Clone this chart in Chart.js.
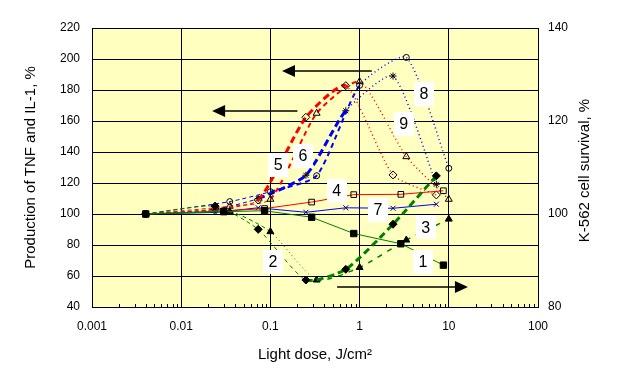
<!DOCTYPE html>
<html>
<head>
<meta charset="utf-8">
<script src="https://cdn.jsdelivr.net/npm/chart.js"></script>
<style>
  body { margin: 0; background: #fff; }
</style>
</head>
<body>
<canvas id="chart" width="624" height="379"></canvas>
<script>
// light doses (J/cm2) - three dose sets used by the curves
const doseA = [0.004, 0.024, 0.073, 0.25, 0.7, 2.37, 7.25];
const doseB = [0.004, 0.035, 0.1, 0.33, 1, 3.34, 10];
const doseC = [0.004, 0.03, 0.086, 0.29, 0.86, 2.9, 8.7];

// K-562 cell survival, % (right axis)
const surv1 = [100, 100.5, 100.7, 99.3, 95.8, 93.6, 89.0];
const surv2 = [100, 101.7, 96.7, 85.8, 88.1, 97.8, 108.2];
const surv3 = [100, 100.5, 96.2, 85.8, 88.5, 94.4, 98.9];

// production of TNF and IL-1, % (left axis)
const prod4 = [100, 102, 103.5, 107.7, 112.5, 112.7, 115];
const prod5 = [100, 103, 109, 162.4, 182.8, 125.2, 112.3];
const prod6 = [100, 105, 109.5, 165, 185.4, 137, 109.5];
const prod7 = [100, 101, 104, 101.1, 104, 103.7, 106.3];
const prod8 = [100, 108, 114.4, 124.7, 183, 201, 129.5];
const prod9 = [100, 103, 110, 125, 166.6, 189, 119.2];

const xTickVals = [0.001, 0.01, 0.1, 1, 10, 100];
const xTickLabels = ['0.001', '0.01', '0.1', '1', '10', '100'];

// curve numbers, placed in dose / left-axis units
const labelText = ['1', '2', '3', '4', '5', '6', '7', '8', '9'];
const labelDose = [5.13, 0.107, 5.5, 0.555, 0.122, 0.232, 1.61, 5.26, 3.12];
const labelLevel = [69.2, 69.2, 91.4, 114.8, 131.6, 137.4, 102.6, 177.4, 158.1];

// arrows pointing to the axis each group belongs to
const arrowFrom = [1.37, 0.201, 0.56];
const arrowTo = [0.135, 0.0222, 16.4];
const arrowLevel = [192.3, 166.5, 84.4];
const arrowAxis = ['y', 'y', 'y2'];

const rightTitle = 'K-562 cell survival, %';

const FONT = '"Liberation Sans", Arial, sans-serif';
const GREEN = '#008000', RED = '#ff0000', BLUE = '#0000ff';

function pts(xs, ys) {
    return xs.map((x, i) => ({ x: x, y: ys[i] }));
}

// per-segment width / dash, indexed by segment start point
function seg(widths, dashes) {
    return {
        borderWidth: c => widths[c.p0DataIndex],
        borderDash: c => dashes[c.p0DataIndex]
    };
}

const dash = [4, 3], dot = [1, 3], thick = [7, 4], mid = [5, 4];
const T = 0.2;

const datasets = [
    { data: pts(doseC, surv1), yAxisID: 'y2', borderColor: GREEN, borderWidth: 1,
      pointStyle: 'rect', pointRadius: 4.5, backgroundColor: '#000', pointBorderColor: '#000' },
    { data: pts(doseA, surv2), yAxisID: 'y2', borderColor: GREEN, tension: T,
      segment: seg([1, 1, 1, 3, 3, 3], [dash, dash, [4, 4], thick, thick, thick]),
      pointStyle: 'rectRot', pointRadius: 4, backgroundColor: '#000', pointBorderColor: '#000' },
    { data: pts(doseB, surv3), yAxisID: 'y2', borderColor: GREEN, tension: T,
      segment: seg([1, 1, 1, 1.5, 1.5, 1.5], [dash, dash, dot, [5, 6], [5, 6], [5, 6]]),
      pointStyle: 'triangle', pointRadius: 4, backgroundColor: '#000', pointBorderColor: '#000' },
    { data: pts(doseC, prod4), yAxisID: 'y', borderColor: RED, borderWidth: 1,
      pointStyle: 'rect', pointRadius: 4, backgroundColor: 'transparent', pointBorderColor: '#000' },
    { data: pts(doseA, prod5), yAxisID: 'y', borderColor: RED, tension: T,
      segment: seg([1, 1, 3, 3, 1.5, 1.5], [dash, dash, thick, thick, dot, dot]),
      pointStyle: 'rectRot', pointRadius: 4, backgroundColor: 'transparent', pointBorderColor: '#000' },
    { data: pts(doseB, prod6), yAxisID: 'y', borderColor: RED, tension: T,
      segment: seg([1, 1, 2, 2, 1.5, 1.5], [dash, dash, mid, mid, dot, dot]),
      pointStyle: 'triangle', pointRadius: 4, backgroundColor: 'transparent', pointBorderColor: '#000' },
    { data: pts(doseA, prod7), yAxisID: 'y', borderColor: BLUE, borderWidth: 1,
      pointStyle: 'crossRot', pointRadius: 3.5, backgroundColor: 'transparent', pointBorderColor: '#000080' },
    { data: pts(doseB, prod8), yAxisID: 'y', borderColor: BLUE, tension: T,
      segment: seg([1, 1, 2, 2, 1.5, 1.5], [dash, dash, mid, mid, dot, dot]),
      pointStyle: 'circle', pointRadius: 3, backgroundColor: 'transparent', pointBorderColor: '#000' },
    { data: pts(doseA, prod9), yAxisID: 'y', borderColor: BLUE, tension: T,
      segment: seg([1, 1, 3, 3, 1.5, 1.5], [dash, dash, thick, thick, dot, dot]),
      pointStyle: 'star', pointRadius: 3.5, backgroundColor: 'transparent', pointBorderColor: '#000' }
];
datasets.forEach(d => { d.pointBorderWidth = 1; d.fill = false; });

const extras = {
    id: 'extras',
    beforeDraw(chart) {
        const { ctx, chartArea: a } = chart;
        ctx.save();
        ctx.fillStyle = '#ffffc0';
        ctx.fillRect(a.left, a.top, a.right - a.left, a.bottom - a.top);
        ctx.restore();
    },
    afterDatasetsDraw(chart) {
        const { ctx, chartArea: a, scales } = chart;
        const x = scales.x;
        ctx.save();
        // minor ticks along the bottom, inside the plot
        ctx.strokeStyle = '#000';
        ctx.lineWidth = 1;
        ctx.beginPath();
        for (let d = 0.001; d < 100; d *= 10) {
            for (let k = 2; k <= 9; k++) {
                const px = Math.round(x.getPixelForValue(k * d)) + 0.5;
                ctx.moveTo(px, a.bottom);
                ctx.lineTo(px, a.bottom - 3);
            }
        }
        ctx.stroke();

        // arrows
        ctx.fillStyle = '#000';
        ctx.lineWidth = 1.5;
        arrowFrom.forEach((from, i) => {
            const y = Math.round(scales[arrowAxis[i]].getPixelForValue(arrowLevel[i]));
            const x0 = x.getPixelForValue(from);
            const x1 = x.getPixelForValue(arrowTo[i]);
            const dir = x1 > x0 ? 1 : -1;
            const base = x1 - dir * 13;
            ctx.beginPath();
            ctx.moveTo(x0, y);
            ctx.lineTo(base, y);
            ctx.stroke();
            ctx.beginPath();
            ctx.moveTo(x1, y);
            ctx.lineTo(base, y - 6);
            ctx.lineTo(base, y + 6);
            ctx.closePath();
            ctx.fill();
        });

        // curve numbers
        ctx.font = '16px ' + FONT;
        ctx.textAlign = 'center';
        ctx.textBaseline = 'middle';
        labelText.forEach((t, i) => {
            const px = x.getPixelForValue(labelDose[i]);
            const py = scales.y.getPixelForValue(labelLevel[i]);
            ctx.fillStyle = '#fff';
            ctx.fillRect(Math.round(px - 10), Math.round(py - 12), 20, 24);
            ctx.fillStyle = '#000';
            ctx.fillText(t, px, py + 1);
        });

        // right axis title, reading bottom to top like the left one
        const r = scales.y2;
        ctx.translate(r.right - 39, (a.top + a.bottom) / 2 + 3);
        ctx.rotate(-Math.PI / 2);
        ctx.font = '15px ' + FONT;
        ctx.fillStyle = '#000';
        ctx.fillText(rightTitle, 0, 0);
        ctx.restore();
    }
};

const tickFont = { family: FONT, size: 12 };
const titleFont = { family: FONT, size: 15 };

new Chart(document.getElementById('chart'), {
    type: 'line',
    data: { datasets: datasets },
    plugins: [extras],
    options: {
        responsive: false,
        animation: false,
        layout: { padding: { top: 28, left: 0, right: 0, bottom: 0 } },
        plugins: { legend: { display: false }, tooltip: { enabled: false } },
        scales: {
            x: {
                type: 'logarithmic',
                position: 'bottom',
                min: 0.001,
                max: 100,
                afterBuildTicks: s => { s.ticks = xTickVals.map(v => ({ value: v })); },
                afterFit: s => { s.height = 72; },
                grid: { color: '#000', lineWidth: 1, drawTicks: false },
                border: { color: '#000', width: 1 },
                ticks: { color: '#000', font: tickFont, padding: 12, autoSkip: false, maxRotation: 0,
                         callback: (v, i) => xTickLabels[i] },
                title: { display: true, text: 'Light dose, J/cm²', color: '#000', font: titleFont,
                         padding: { top: 0, bottom: 15 } }
            },
            y: {
                position: 'left',
                min: 40,
                max: 220,
                afterFit: s => { s.width = 92; },
                grid: { color: '#000', lineWidth: 1, drawTicks: false },
                border: { color: '#000', width: 1 },
                ticks: { stepSize: 20, color: '#000', font: tickFont, padding: 12 },
                title: { display: true, text: 'Production of TNF and IL-1, %', color: '#000', font: titleFont,
                         padding: { top: 22, bottom: 0 } }
            },
            y2: {
                position: 'right',
                min: 80,
                max: 140,
                afterFit: s => { s.width = 86; },
                grid: { drawOnChartArea: false, drawTicks: false },
                border: { color: '#000', width: 1 },
                ticks: { stepSize: 20, color: '#000', font: tickFont, padding: 10 },
                title: { display: false }
            }
        }
    }
});
</script>
</body>
</html>
